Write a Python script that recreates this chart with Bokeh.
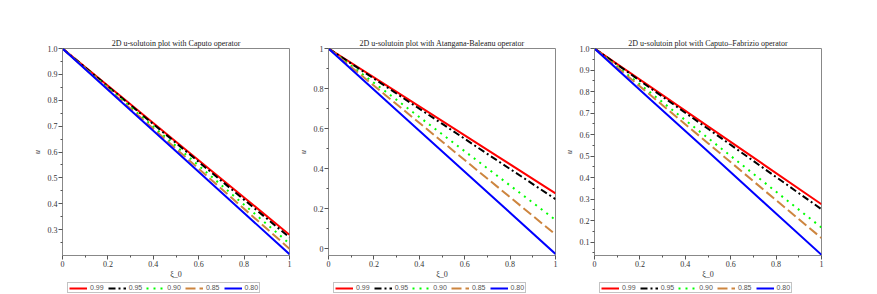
from bokeh.plotting import figure
from bokeh.layouts import row, column
from bokeh.models import Spacer, Legend, LegendItem, FixedTicker, CustomJSTickFormatter
from bokeh.embed import file_html
from bokeh.resources import INLINE

xi = [0.0, 0.25, 0.5, 0.75, 1.0]
labels = ["0.99", "0.95", "0.90", "0.85", "0.80"]

caputo = {
    "0.99": [1.0, 0.820, 0.640, 0.460, 0.280],
    "0.95": [1.0, 0.817, 0.635, 0.452, 0.270],
    "0.90": [1.0, 0.811, 0.623, 0.434, 0.246],
    "0.85": [1.0, 0.806, 0.613, 0.419, 0.226],
    "0.80": [1.0, 0.801, 0.603, 0.404, 0.205],
}
atangana = {
    "0.99": [1.0, 0.819, 0.638, 0.457, 0.276],
    "0.95": [1.0, 0.812, 0.624, 0.435, 0.247],
    "0.90": [1.0, 0.786, 0.572, 0.358, 0.143],
    "0.85": [1.0, 0.768, 0.535, 0.303, 0.070],
    "0.80": [1.0, 0.743, 0.486, 0.230, -0.027],
}
fabrizio = {
    "0.99": [1.0, 0.819, 0.638, 0.457, 0.276],
    "0.95": [1.0, 0.813, 0.627, 0.440, 0.253],
    "0.90": [1.0, 0.792, 0.584, 0.376, 0.168],
    "0.85": [1.0, 0.780, 0.560, 0.339, 0.119],
    "0.80": [1.0, 0.760, 0.521, 0.281, 0.041],
}

titles = [
    "2D u-solutoin plot with Caputo operator",
    "2D u-solutoin plot with Atangana-Baleanu operator",
    "2D u-solutoin plot with Caputo\u2013Fabrizio operator",
]
y_ranges = [(0.2, 1.0), (-0.035, 1.0), (0.038, 1.0)]
y_ticks = [
    [0.3, 0.4, 0.5, 0.6, 0.7, 0.8, 0.9, 1.0],
    [0.0, 0.2, 0.4, 0.6, 0.8, 1.0],
    [0.1, 0.2, 0.3, 0.4, 0.5, 0.6, 0.7, 0.8, 0.9, 1.0],
]
y_minor = [
    [0.25, 0.35, 0.45, 0.55, 0.65, 0.75, 0.85, 0.95],
    [0.1, 0.3, 0.5, 0.7, 0.9],
    [0.05, 0.15, 0.25, 0.35, 0.45, 0.55, 0.65, 0.75, 0.85, 0.95],
]
y_fmt = ["1dec", "int1", "1dec"]
x_ticks = [0.0, 0.2, 0.4, 0.6, 0.8, 1.0]
x_minor = [0.1, 0.3, 0.5, 0.7, 0.9]

colors = {"0.99": "#ff0000", "0.95": "#000000", "0.90": "#00ff00",
          "0.85": "#cd853f", "0.80": "#0000ff"}
dashes = {"0.99": "solid", "0.95": "7 3 2 3", "0.90": "2 5",
          "0.85": "10 4", "0.80": "solid"}

SERIF = "Liberation Serif"
datasets = [caputo, atangana, fabrizio]

cols = []
for i, data in enumerate(datasets):
    p = figure(frame_width=227, frame_height=207, output_backend="svg",
               toolbar_location=None, x_range=(0, 1), y_range=y_ranges[i],
               min_border_left=32, min_border_right=5, min_border_top=48,
               min_border_bottom=0, title=titles[i])
    p.title.text_font = SERIF
    p.title.text_font_size = "8px"
    p.title.text_font_style = "normal"
    p.title.align = "center"
    p.title.text_color = "#222222"
    p.title.standoff = 2
    p.grid.visible = False
    p.outline_line_color = "#888888"
    p.outline_line_width = 1
    for lab in labels:
        p.line(xi, data[lab], line_color=colors[lab], line_width=2,
               line_dash=dashes[lab])
    for ax in (p.xaxis[0], p.yaxis[0]):
        ax.axis_line_color = "#888888"
        ax.major_tick_line_color = "#555555"
        ax.minor_tick_line_color = "#555555"
        ax.major_tick_out = 4
        ax.major_tick_in = 0
        ax.minor_tick_out = 2
        ax.minor_tick_in = 0
        ax.major_label_text_font = SERIF
        ax.major_label_text_font_size = "8px"
        ax.major_label_text_color = "#333333"
        ax.major_label_standoff = 1
        ax.axis_label_text_font = SERIF
        ax.axis_label_text_font_size = "8px"
        ax.axis_label_text_font_style = "normal"
        ax.axis_label_text_color = "#333333"
        ax.axis_label_standoff = 0
    p.xaxis.ticker = FixedTicker(ticks=x_ticks, minor_ticks=x_minor)
    p.yaxis.ticker = FixedTicker(ticks=y_ticks[i], minor_ticks=y_minor[i])
    p.xaxis.formatter = CustomJSTickFormatter(
        code="return (tick==0||tick==1) ? tick.toFixed(0) : tick.toFixed(1);")
    if y_fmt[i] == "1dec":
        p.yaxis.formatter = CustomJSTickFormatter(code="return tick.toFixed(1);")
    else:
        p.yaxis.formatter = CustomJSTickFormatter(
            code="return (Math.abs(tick)<1e-9||Math.abs(tick-1)<1e-9) ? tick.toFixed(0) : tick.toFixed(1);")
    p.xaxis.axis_label = "\u03be_0"
    p.yaxis.axis_label = "u"
    p.yaxis.axis_label_text_font_style = "italic"
    p.yaxis.axis_label_standoff = 3

    # legend strip below each panel (series drawn outside its visible range)
    lf = figure(width=266, height=13, output_backend="svg", toolbar_location=None,
                x_axis_type=None, y_axis_type=None, x_range=(10, 11), y_range=(10, 11),
                min_border=0, outline_line_color=None)
    lf.grid.visible = False
    items = []
    for lab in labels:
        r = lf.line(xi, data[lab], line_color=colors[lab], line_width=2,
                    line_dash=dashes[lab])
        items.append(LegendItem(label=lab, renderers=[r]))
    legend = Legend(items=items, orientation="horizontal", location=(5, 1),
                    label_text_font="Liberation Sans", label_text_font_size="7px",
                    label_text_color="#555555", glyph_width=18, glyph_height=6,
                    label_height=6, label_width=13, label_standoff=3, spacing=4,
                    padding=1, margin=0, border_line_color="#888888",
                    border_line_width=1, background_fill_alpha=1.0)
    lf.add_layout(legend, "center")
    cols.append(column(p, lf, spacing=0))

layout = row(Spacer(width=29), cols[0], cols[1], cols[2], spacing=0)
open("out.html", "w").write(file_html(layout, INLINE))
